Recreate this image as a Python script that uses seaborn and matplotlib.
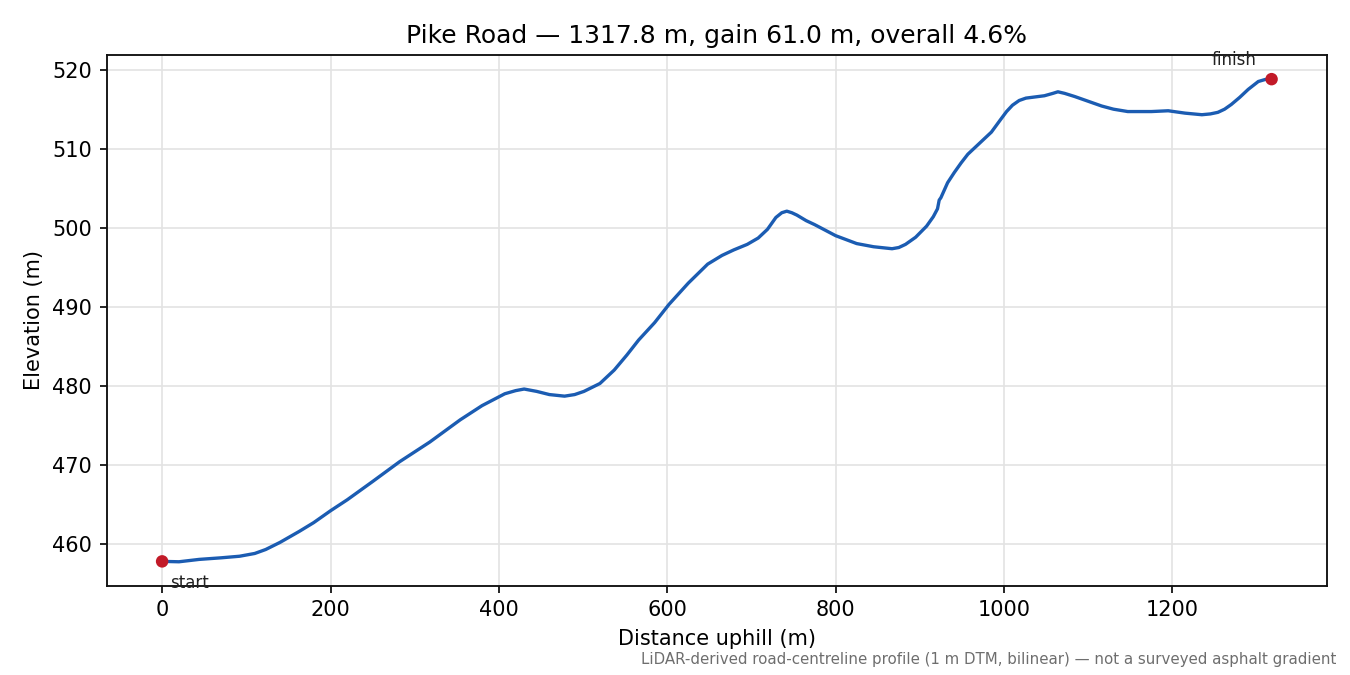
import numpy as np
import pandas as pd
import seaborn as sns
from matplotlib import pyplot as plt

# profile
distance = [0, 20, 44, 70, 92, 110, 123, 140, 163, 180, 200, 220, 250, 282, 318, 354,
            380, 407, 420, 430, 445, 460, 478, 490, 501, 520, 537, 552, 566, 585, 602, 625,
            648, 665, 679, 695, 708, 719, 729, 736, 742, 748, 754, 765, 775, 800, 825,
            845, 858, 867, 875, 883, 895, 908, 916, 921, 923, 925, 933, 941, 949, 957, 965, 973,
            985, 996, 1003, 1010, 1018, 1026, 1048, 1058, 1064, 1072, 1084, 1100, 1116,
            1130, 1147, 1175, 1195, 1215, 1235, 1245, 1254, 1262, 1270, 1280, 1290,
            1302, 1310, 1317.8]
elevation = [457.8, 457.75, 458.05, 458.25, 458.45, 458.8, 459.3, 460.2, 461.6, 462.7,
             464.2, 465.6, 467.9, 470.4, 472.9, 475.7, 477.5, 479.0, 479.4, 479.6, 479.3,
             478.9, 478.7, 478.9, 479.3, 480.3, 482.0, 483.9, 485.8, 488.0, 490.3, 493.0, 495.4,
             496.5, 497.2, 497.9, 498.7, 499.8, 501.3, 501.9, 502.1, 501.9, 501.6, 500.9,
             500.4, 499.0, 498.0, 497.6, 497.45, 497.35, 497.5, 497.9, 498.8, 500.2, 501.4, 502.4, 503.5,
             503.8, 505.7, 507.0, 508.2, 509.3, 510.1, 510.9, 512.1, 513.7, 514.7, 515.5,
             516.1, 516.4, 516.7, 517.0, 517.2, 517.0, 516.6, 516.0, 515.4, 515.0, 514.7,
             514.7, 514.8, 514.5, 514.3, 514.4, 514.6, 515.0, 515.6, 516.5, 517.5, 518.5,
             518.75, 518.8]
road = 'Pike Road'
gain = 61.0
grade = 4.6

df = pd.DataFrame({'distance': distance, 'elevation': elevation})
ends = df.iloc[[0, -1]]

sns.set_theme(style='ticks')
plt.rcParams['font.family'] = ['DejaVu Sans']

fig, ax = plt.subplots(figsize=(9, 4.5), dpi=150)
fig.subplots_adjust(left=0.079, right=0.983, top=0.9185, bottom=0.132)

sns.lineplot(data=df, x='distance', y='elevation', sort=False, estimator=None,
             color='#1b5cb2', linewidth=1.6, ax=ax)
sns.scatterplot(data=ends, x='distance', y='elevation', color='#c21a28', s=36,
                edgecolor='none', zorder=5, ax=ax)

ax.annotate('start', (ends.distance.iloc[0], ends.elevation.iloc[0]), xytext=(4, -6),
            textcoords='offset points', ha='left', va='top', fontsize=8, color='#222222')
ax.annotate('finish', (ends.distance.iloc[1], ends.elevation.iloc[1]), xytext=(-7, 5),
            textcoords='offset points', ha='right', va='bottom', fontsize=8, color='#222222')

ax.grid(True, color='#e3e3e3', linewidth=0.8)
for s in ax.spines.values():
    s.set_color('#111111')
    s.set_linewidth(0.9)
ax.tick_params(colors='black', labelsize=10, length=3.5, width=0.8)
ax.set_xlabel('Distance uphill (m)', fontsize=10, color='black')
ax.set_ylabel('Elevation (m)', fontsize=10, color='black')
ax.set_title(f'{road} \u2014 {distance[-1]:.1f} m, gain {gain:.1f} m, overall {grade:.1f}%',
             fontsize=12, color='black')
ax.margins(x=0.05, y=0.05)

fig.text(0.99, 0.012, 'LiDAR-derived road-centreline profile (1 m DTM, bilinear) \u2014 '
         'not a surveyed asphalt gradient', ha='right', va='bottom', fontsize=7.2,
         color='#6e6e6e')

fig.savefig('out.png', dpi=150)
